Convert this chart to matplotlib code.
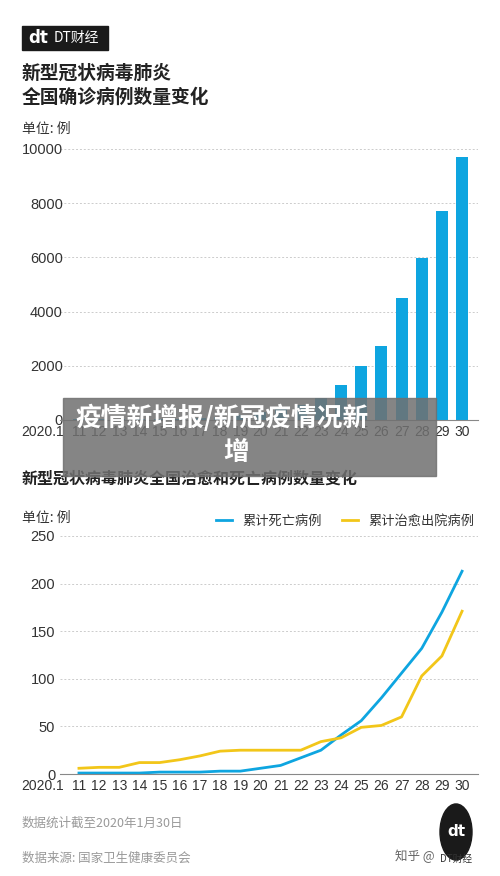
import matplotlib
matplotlib.use("Agg")
import matplotlib.pyplot as plt
from matplotlib.patches import Rectangle, Circle
from matplotlib.transforms import blended_transform_factory, offset_copy

plt.rcParams['font.family'] = ['Noto Sans CJK SC', 'DejaVu Sans']

days = list(range(11, 31))
first_label = '2020.1'
day_labels = [str(d) for d in days]
confirmed = [41, 41, 41, 41, 41, 45, 62, 121, 198, 291, 440, 571, 830, 1287, 1975, 2744, 4515, 5974, 7711, 9692]
deaths = [1, 1, 1, 1, 2, 2, 2, 3, 3, 6, 9, 17, 25, 41, 56, 80, 106, 132, 170, 213]
cured = [6, 7, 7, 12, 12, 15, 19, 24, 25, 25, 25, 25, 34, 38, 49, 51, 60, 103, 124, 171]

W, H = 500, 876
fig = plt.figure(figsize=(W/100, H/100), dpi=100)
def fx(x): return x / W
def fy(y): return 1 - y / H

BLUE = '#0ea5e0'
YEL = '#f2c619'
GRID = '#cccccc'
TXT = '#333333'
xl = (10.06, 30.79)
NUMF = ['Liberation Sans', 'DejaVu Sans']

def style(ax):
    for s in ['top', 'right', 'left']:
        ax.spines[s].set_visible(False)
    ax.spines['bottom'].set_color('#888888')
    ax.tick_params(axis='both', length=0, labelsize=10.5, colors=TXT)
    ax.tick_params(axis='x', labelsize=10)
    ax.set_xticks(days)
    ax.set_xticklabels(day_labels)
    ax.set_xlim(*xl)
    ax.yaxis.grid(True, linestyle=(0, (2, 2)), color=GRID, linewidth=0.7)
    ax.set_axisbelow(True)
    for t in ax.get_xticklabels() + ax.get_yticklabels():
        t.set_fontfamily(NUMF)
    tr = offset_copy(blended_transform_factory(ax.transData, ax.transAxes), fig=fig, y=-3.5, units='points')
    ax.text(10.25, 0, first_label, transform=tr, ha='right', va='top', fontsize=10,
            color=TXT, family=NUMF)

# Top chart
ax1 = fig.add_axes([fx(60), fy(420), 418/W, 271/H])
ax1.bar(days, confirmed, width=0.6, color=BLUE)
ax1.set_ylim(0, 10000)
ax1.set_yticks([0, 2000, 4000, 6000, 8000, 10000])
style(ax1)
ax1.tick_params(axis='y', pad=-2)

# Bottom chart
ax2 = fig.add_axes([fx(60), fy(774), 418/W, 238/H])
ax2.plot(days, deaths, color=BLUE, lw=2, label='累计死亡病例')
ax2.plot(days, cured, color=YEL, lw=2, label='累计治愈出院病例')
ax2.set_ylim(0, 250)
ax2.set_yticks([0, 50, 100, 150, 200, 250])
style(ax2)
ax2.legend(loc='lower right', bbox_to_anchor=(1.01, 1.0), ncol=2, frameon=False,
           fontsize=9.5, handlelength=1.2, columnspacing=1.5, labelcolor=TXT,
           borderaxespad=0.2)

# Logo
fig.patches.append(Rectangle((fx(22), fy(50)), 86/W, 24/H, transform=fig.transFigure, color='#1a1a1a'))
fig.text(fx(28), fy(38), 'dt', color='white', fontsize=12, fontweight='bold', va='center', family=['DejaVu Sans'])
fig.text(fx(54), fy(38), 'DT财经', color='white', fontsize=10, va='center')

fig.text(fx(22), fy(73), '新型冠状病毒肺炎', fontsize=13.5, fontweight='bold', color='#222222', va='center')
fig.text(fx(22), fy(97), '全国确诊病例数量变化', fontsize=13.5, fontweight='bold', color='#222222', va='center')
fig.text(fx(22), fy(129), '单位: 例', fontsize=10, color=TXT, va='center')
fig.text(fx(22), fy(479), '新型冠状病毒肺炎全国治愈和死亡病例数量变化', fontsize=11.5, fontweight='bold', color='#222222', va='center')
fig.text(fx(22), fy(518), '单位: 例', fontsize=10, color=TXT, va='center')
fig.text(fx(22), fy(823), '数据统计截至2020年1月30日', fontsize=9, color='#999999', va='center')
fig.text(fx(22), fy(858), '数据来源: 国家卫生健康委员会', fontsize=9, color='#999999', va='center')

# bottom-right logo
fig.patches.append(Circle((fx(456), fy(832)), 16/W, transform=fig.transFigure, color='#1a1a1a'))
fig.text(fx(456), fy(832), 'dt', color='white', fontsize=11, fontweight='bold', ha='center', va='center', family=['DejaVu Sans'])
fig.text(fx(395), fy(856), '知乎 @', fontsize=9, color='#666666', va='center')
fig.text(fx(440), fy(859), 'DT财经', fontsize=7, color='#333333', va='center')

# Overlay banner
fig.patches.append(Rectangle((fx(63), fy(476)), 373/W, 78/H, transform=fig.transFigure,
                             color='#707070', alpha=0.85, zorder=10))
fig.text(fx(75), fy(418), '疫情新增报/新冠疫情况新', fontsize=18.5, fontweight='bold', color='white', va='center', zorder=11)
fig.text(fx(236), fy(452), '增', fontsize=18.5, fontweight='bold', color='white', ha='center', va='center', zorder=11)

fig.savefig('out.png', dpi=100, facecolor='white')
